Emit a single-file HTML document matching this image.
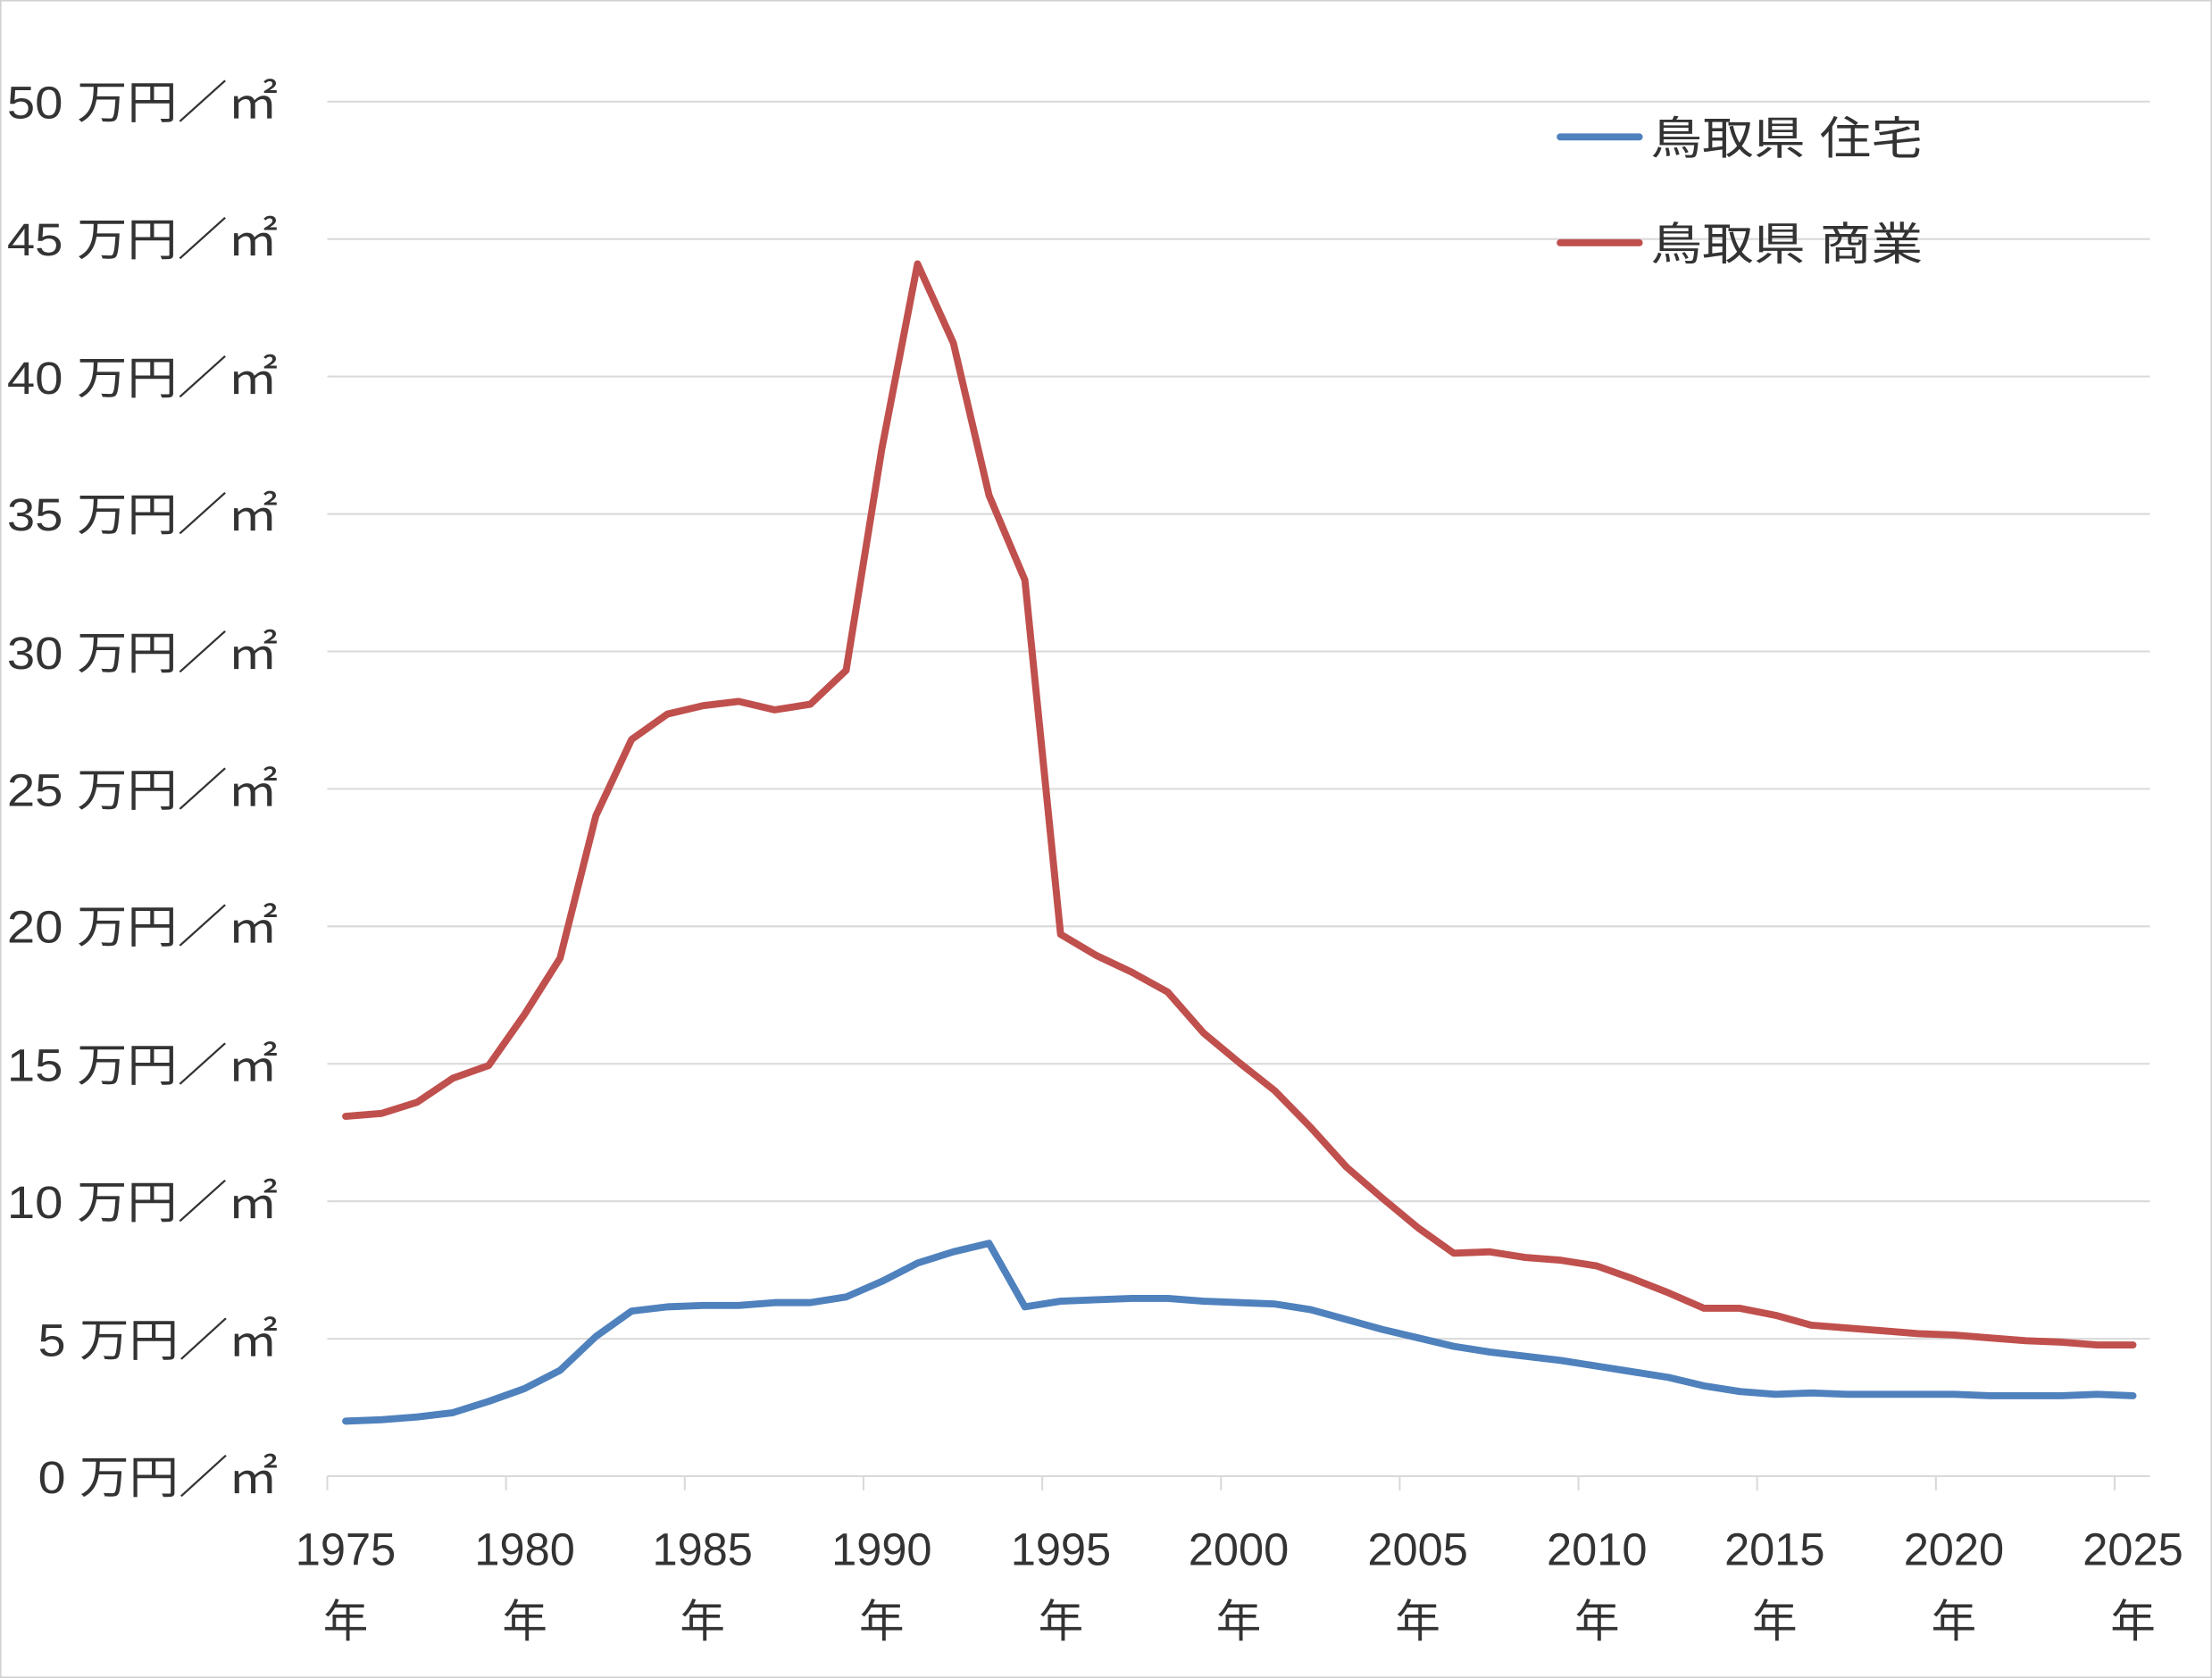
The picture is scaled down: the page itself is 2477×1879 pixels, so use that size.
<!DOCTYPE html>
<html><head><meta charset="utf-8"><style>
html,body{margin:0;padding:0;background:#fff}
svg{display:block}
text{font-family:"Liberation Sans","Noto Sans CJK JP",sans-serif;fill:#333}
</style></head><body>
<svg id="s" width="2477" height="1879" viewBox="0 0 1568 1189" preserveAspectRatio="none" xmlns="http://www.w3.org/2000/svg">
<rect x="0.5" y="0.5" width="1567" height="1188" fill="#fff" stroke="#d0d0d0"/>
<g stroke="#d9d9d9" stroke-width="1.3">
<line x1="232" x2="1524" y1="72" y2="72"/><line x1="232" x2="1524" y1="169.4" y2="169.4"/>
<line x1="232" x2="1524" y1="266.8" y2="266.8"/><line x1="232" x2="1524" y1="364.2" y2="364.2"/>
<line x1="232" x2="1524" y1="461.6" y2="461.6"/><line x1="232" x2="1524" y1="559" y2="559"/>
<line x1="232" x2="1524" y1="656.4" y2="656.4"/><line x1="232" x2="1524" y1="753.8" y2="753.8"/>
<line x1="232" x2="1524" y1="851.2" y2="851.2"/><line x1="232" x2="1524" y1="948.6" y2="948.6"/>
<line x1="232" x2="1524" y1="1046" y2="1046"/>
</g>
<g id="ticks" stroke="#d9d9d9" stroke-width="1.3"></g>
<g font-size="32" lengthAdjust="spacingAndGlyphs">
<text x="5" y="84" textLength="192" lengthAdjust="spacingAndGlyphs">50 万円／㎡</text>
<text x="5" y="181" textLength="192" lengthAdjust="spacingAndGlyphs">45 万円／㎡</text>
<text x="5" y="279" textLength="192" lengthAdjust="spacingAndGlyphs">40 万円／㎡</text>
<text x="5" y="376" textLength="192" lengthAdjust="spacingAndGlyphs">35 万円／㎡</text>
<text x="5" y="474" textLength="192" lengthAdjust="spacingAndGlyphs">30 万円／㎡</text>
<text x="5" y="571" textLength="192" lengthAdjust="spacingAndGlyphs">25 万円／㎡</text>
<text x="5" y="668" textLength="192" lengthAdjust="spacingAndGlyphs">20 万円／㎡</text>
<text x="5" y="766" textLength="192" lengthAdjust="spacingAndGlyphs">15 万円／㎡</text>
<text x="5" y="863" textLength="192" lengthAdjust="spacingAndGlyphs">10 万円／㎡</text>
<text x="27" y="961" textLength="170" lengthAdjust="spacingAndGlyphs">5 万円／㎡</text>
<text x="27" y="1058" textLength="170" lengthAdjust="spacingAndGlyphs">0 万円／㎡</text>
</g>
<g font-size="32" text-anchor="middle">
<text x="245" y="1109">1975</text><text x="245" y="1160">年</text>
<text x="372" y="1109">1980</text><text x="372" y="1160">年</text>
<text x="498" y="1109">1985</text><text x="498" y="1160">年</text>
<text x="625" y="1109">1990</text><text x="625" y="1160">年</text>
<text x="752" y="1109">1995</text><text x="752" y="1160">年</text>
<text x="878" y="1109">2000</text><text x="878" y="1160">年</text>
<text x="1005" y="1109">2005</text><text x="1005" y="1160">年</text>
<text x="1132" y="1109">2010</text><text x="1132" y="1160">年</text>
<text x="1258" y="1109">2015</text><text x="1258" y="1160">年</text>
<text x="1385" y="1109">2020</text><text x="1385" y="1160">年</text>
<text x="1512" y="1109">2025</text><text x="1512" y="1160">年</text>
</g>
<polyline id="red" fill="none" stroke="#c0504d" stroke-width="5" stroke-linejoin="round" stroke-linecap="round"/>
<polyline id="blue" fill="none" stroke="#4f81bd" stroke-width="5" stroke-linejoin="round" stroke-linecap="round"/>
<line x1="1106" x2="1162" y1="97" y2="97" stroke="#4f81bd" stroke-width="5" stroke-linecap="round"/>
<line x1="1106" x2="1162" y1="172" y2="172" stroke="#c0504d" stroke-width="5" stroke-linecap="round"/>
<text x="1170" y="109" font-size="32" textLength="193" lengthAdjust="spacingAndGlyphs">鳥取県 住宅</text>
<text x="1170" y="184" font-size="32" textLength="193" lengthAdjust="spacingAndGlyphs">鳥取県 商業</text>
</svg>
<script>
var r=[791,789,781,764,755,719,679,578,524,506,500,497,503,499,475,318,187,243,351,411,662,677,689,703,732,753,773,799,827,849,870,888,887,891,893,897,906,916,927,927,932,939,941,943,945,946,948,950,951,953,953];
var b=[1007,1006,1004,1001,993,984,971,947,929,926,925,925,923,923,919,908,895,887,881,926,922,921,920,920,922,923,924,928,935,942,948,954,958,961,964,968,972,976,982,986,988,987,988,988,988,988,989,989,989,988,989];
function pts(a){return a.map(function(y,i){return (245+i*25.34).toFixed(1)+","+y}).join(" ");}
document.getElementById("red").setAttribute("points",pts(r));
document.getElementById("blue").setAttribute("points",pts(b));
var t="";for(var i=0;i<=10;i++){var x=232+i*126.7;t+='<line x1="'+x+'" x2="'+x+'" y1="1046" y2="1056"/>';}
document.getElementById("ticks").innerHTML=t;
</script>
</body></html>
